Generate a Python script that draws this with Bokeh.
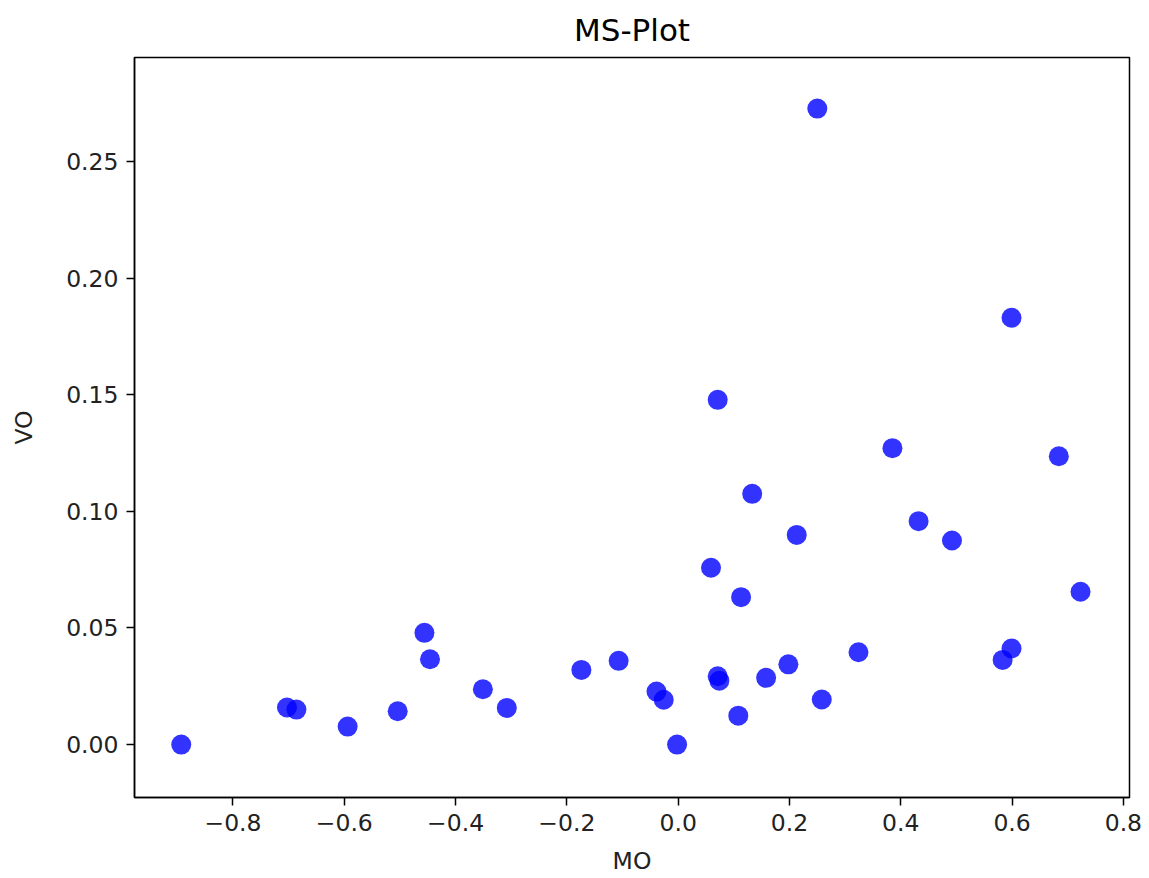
from bokeh.plotting import figure
from bokeh.models import ColumnDataSource, FixedTicker, Range1d
from bokeh.embed import file_html
from bokeh.resources import INLINE

# ---- data ----
MO = [-0.893, -0.703, -0.686, -0.594, -0.504, -0.456, -0.446, -0.351, -0.308,
      -0.174, -0.107, -0.039, -0.026, -0.002, 0.059, 0.071, 0.071, 0.074,
      0.108, 0.113, 0.133, 0.158, 0.198, 0.213, 0.250, 0.258, 0.324, 0.385,
      0.432, 0.492, 0.583, 0.599, 0.599, 0.684, 0.723]
VO = [0.0000, 0.0159, 0.0150, 0.0077, 0.0143, 0.0479, 0.0366, 0.0237, 0.0157,
      0.0320, 0.0359, 0.0227, 0.0192, 0.0000, 0.0758, 0.1478, 0.0293, 0.0274,
      0.0124, 0.0632, 0.1075, 0.0286, 0.0344, 0.0899, 0.2727, 0.0193, 0.0396,
      0.1271, 0.0958, 0.0875, 0.0363, 0.0412, 0.1830, 0.1236, 0.0655]

x_ticks = [-0.8, -0.6, -0.4, -0.2, 0.0, 0.2, 0.4, 0.6, 0.8]
x_tick_labels = ["\u22120.8", "\u22120.6", "\u22120.4", "\u22120.2", "0.0",
                 "0.2", "0.4", "0.6", "0.8"]
y_ticks = [0.0, 0.05, 0.10, 0.15, 0.20, 0.25]
y_tick_labels = ["0.00", "0.05", "0.10", "0.15", "0.20", "0.25"]

title_text = "MS-Plot"
x_label = "MO"
y_label = "VO"

FONT = "DejaVu Sans"

source = ColumnDataSource(data=dict(x=MO, y=VO))

p = figure(width=1149, height=878, output_backend="svg", toolbar_location=None,
           x_range=Range1d(-0.977, 0.811), y_range=Range1d(-0.0227, 0.2946),
           min_border_left=134, min_border_right=20, min_border_top=57,
           min_border_bottom=81, background_fill_color="white",
           border_fill_color="white")

p.title.text = title_text
p.title.align = "center"
p.title.vertical_align = "top"
p.title.text_font = FONT
p.title.text_font_size = "31px"
p.title.text_font_style = "normal"
p.title.text_color = "#000000"
p.title.standoff = 16

p.scatter(x="x", y="y", source=source, size=20, marker="circle",
          fill_color="#0000ff", fill_alpha=0.8, line_color=None)

p.grid.visible = False
p.outline_line_color = "black"
p.outline_line_width = 1.5
p.outline_line_alpha = 1.0

for ax in (p.xaxis[0], p.yaxis[0]):
    ax.axis_line_color = "black"
    ax.axis_line_width = 1.5
    ax.major_tick_line_color = "black"
    ax.major_tick_line_width = 1.5
    ax.major_tick_out = 8
    ax.major_tick_in = 0
    ax.minor_tick_line_color = None
    ax.major_label_text_font = FONT
    ax.major_label_text_font_size = "23.5px"
    ax.major_label_text_color = "#222222"
    ax.axis_label_text_font = FONT
    ax.axis_label_text_font_size = "23.5px"
    ax.axis_label_text_font_style = "normal"
    ax.axis_label_text_color = "#222222"

p.xaxis[0].ticker = FixedTicker(ticks=x_ticks)
p.xaxis[0].major_label_overrides = dict(zip(x_ticks, x_tick_labels))
p.xaxis[0].axis_label = x_label
p.xaxis[0].major_label_standoff = 8
p.xaxis[0].axis_label_standoff = 13

p.yaxis[0].ticker = FixedTicker(ticks=y_ticks)
p.yaxis[0].major_label_overrides = dict(zip(y_ticks, y_tick_labels))
p.yaxis[0].axis_label = y_label
p.yaxis[0].major_label_standoff = 8
p.yaxis[0].axis_label_standoff = 25

open("out.html", "w").write(file_html(p, INLINE))
